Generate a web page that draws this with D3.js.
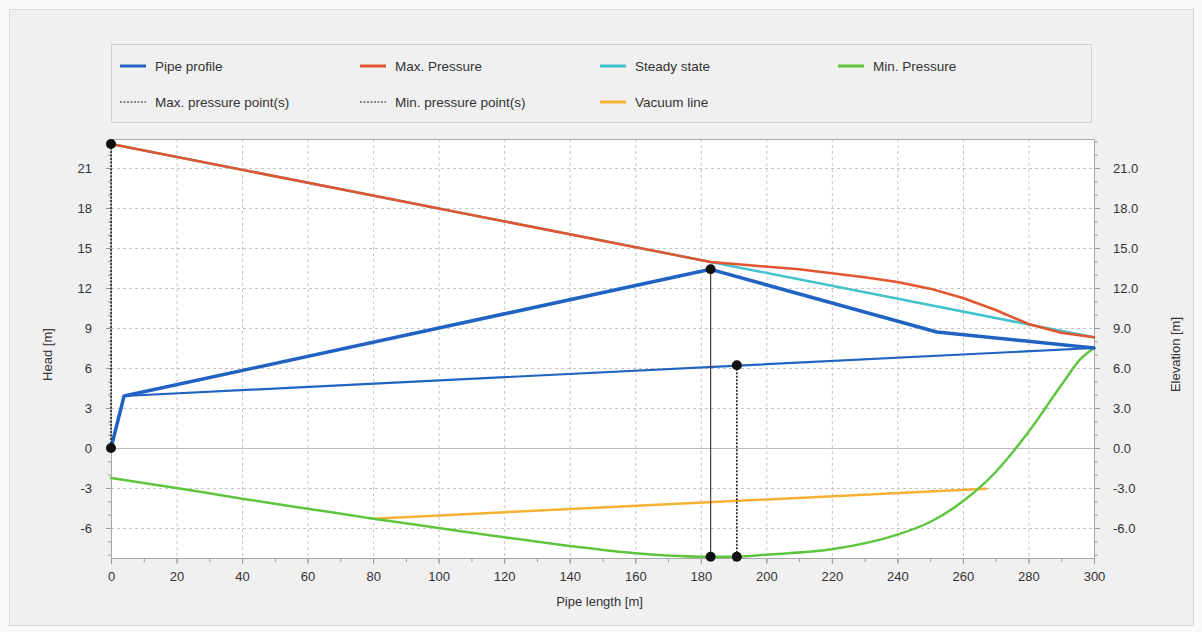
<!DOCTYPE html>
<html>
<head>
<meta charset="utf-8">
<script src="https://cdn.jsdelivr.net/npm/d3@7"></script>
<style>
  html, body { margin: 0; padding: 0; background: #fafafa; }
  svg { display: block; font-family: "Liberation Sans", Arial, sans-serif; }
</style>
</head>
<body>
<div id="chart"></div>
<script>
// Pipe profile: outbound line, then the return link back to the first bend
const pipeX = [0, 4, 183, 252, 300, 4];
const pipeY = [0, 3.9, 13.4, 8.7, 7.5, 3.9];

// Steady state hydraulic grade line
const steadyX = [0, 300];
const steadyY = [22.8, 8.3];

// Max. pressure envelope
const maxX = [0, 183, 195, 210, 220, 230, 240, 250, 260, 270, 280, 290, 300];
const maxY = [22.8, 13.95, 13.7, 13.4, 13.1, 12.8, 12.45, 11.95, 11.25, 10.35, 9.3, 8.65, 8.3];

// Min. pressure envelope
const minX = [0, 20, 40, 60, 80, 100, 120, 140, 160, 180, 190, 200, 220, 240, 250, 260, 270, 280, 290, 296, 300];
const minY = [-2.25, -3.0, -3.8, -4.55, -5.3, -6.0, -6.7, -7.35, -7.9, -8.15, -8.15, -8.0, -7.6, -6.5, -5.55, -4.0, -1.8, 1.2, 4.7, 6.7, 7.5];

// Vacuum line
const vacX = [80, 267];
const vacY = [-5.3, -3.05];

// Max. / min. pressure points: [x, y top, y bottom]
const maxPoints = [[0, 22.8, 0], [183, 13.4, -8.15]];
const minPoints = [[191, 6.2, -8.15]];

const xTicks = d3.range(0, 301, 20);
const yTicks = [-6, -3, 0, 3, 6, 9, 12, 15, 18, 21];

const legendItems = [
  { name: "Pipe profile", color: "#2063c2", dash: null },
  { name: "Max. Pressure", color: "#e2552e", dash: null },
  { name: "Steady state", color: "#42c2cc", dash: null },
  { name: "Min. Pressure", color: "#5ec53f", dash: null },
  { name: "Max. pressure point(s)", color: "#222", dash: "2,1.5" },
  { name: "Min. pressure point(s)", color: "#222", dash: "2,1.5" },
  { name: "Vacuum line", color: "#f6b232", dash: null }
];

const W = 1202, H = 632;
const plot = { left: 111, right: 1094, top: 139, bottom: 558 };

const svg = d3.select("#chart").append("svg")
  .attr("width", W).attr("height", H);

// panel background
svg.append("rect")
  .attr("x", 9.5).attr("y", 9.5).attr("width", 1184).attr("height", 616)
  .attr("fill", "#f0f0f0").attr("stroke", "#d9d9d9");

// legend
const lg = svg.append("g");
lg.append("rect")
  .attr("x", 111.5).attr("y", 44.5).attr("width", 980).attr("height", 78)
  .attr("fill", "#f0f0f0").attr("stroke", "#cfcfcf");
const colX = [120, 360, 600, 838];
const rowY = [66, 102];
legendItems.forEach((d, i) => {
  const cx = colX[i < 4 ? i : i - 4];
  const cy = rowY[i < 4 ? 0 : 1];
  lg.append("line")
    .attr("x1", cx).attr("x2", cx + 26).attr("y1", cy).attr("y2", cy)
    .attr("stroke", d.color)
    .attr("stroke-width", d.dash ? 1.2 : 3)
    .attr("stroke-dasharray", d.dash);
  lg.append("text")
    .attr("x", cx + 35).attr("y", cy + 5)
    .attr("font-size", 13.5).attr("fill", "#333")
    .text(d.name);
});

const x = d3.scaleLinear().domain([0, 300]).range([plot.left, plot.right]);
const y = d3.scaleLinear().domain([-8.25, 23.175]).range([plot.bottom, plot.top]);

// plot area
svg.append("rect")
  .attr("x", plot.left).attr("y", plot.top)
  .attr("width", plot.right - plot.left).attr("height", plot.bottom - plot.top)
  .attr("fill", "#fff");

// grid
const grid = svg.append("g").attr("stroke", "#c4c4c4").attr("stroke-dasharray", "3,3");
grid.selectAll("line.v").data(xTicks.filter(t => t > 0 && t < 300)).join("line")
  .attr("x1", d => x(d) + 0.5).attr("x2", d => x(d) + 0.5)
  .attr("y1", plot.top).attr("y2", plot.bottom);
grid.selectAll("line.h").data(yTicks.filter(t => t !== 0)).join("line")
  .attr("x1", plot.left).attr("x2", plot.right)
  .attr("y1", d => Math.round(y(d)) + 0.5).attr("y2", d => Math.round(y(d)) + 0.5);
svg.append("line")
  .attr("x1", plot.left).attr("x2", plot.right)
  .attr("y1", Math.round(y(0)) + 0.5).attr("y2", Math.round(y(0)) + 0.5)
  .attr("stroke", "#bdbdbd");

svg.append("rect")
  .attr("x", plot.left + 0.5).attr("y", plot.top + 0.5)
  .attr("width", plot.right - plot.left).attr("height", plot.bottom - plot.top)
  .attr("fill", "none").attr("stroke", "#a8a8a8");

// axes
function styleAxis(g) {
  g.select(".domain").remove();
  g.selectAll(".tick line").attr("stroke", "#999");
  g.selectAll(".tick text").attr("fill", "#333").attr("font-size", 13)
    .attr("font-family", "'Liberation Sans', Arial, sans-serif");
}
const hyphen = f => v => f(v).replace("\u2212", "-");

// minor ticks
svg.append("g").attr("transform", `translate(${plot.left},0)`)
  .call(d3.axisLeft(y).tickValues(d3.range(-8, 24, 1)).tickSize(3).tickFormat(""))
  .call(styleAxis);
svg.append("g").attr("transform", `translate(${plot.right + 1},0)`)
  .call(d3.axisRight(y).tickValues(d3.range(-8, 24, 1)).tickSize(3).tickFormat(""))
  .call(styleAxis);
svg.append("g").attr("transform", `translate(0,${plot.bottom + 1})`)
  .call(d3.axisBottom(x).tickValues(d3.range(0, 301, 10)).tickSize(3).tickFormat(""))
  .call(styleAxis);

svg.append("g").attr("transform", `translate(${plot.left},0)`)
  .call(d3.axisLeft(y).tickValues(yTicks).tickSize(5).tickPadding(14).tickFormat(hyphen(d3.format("d"))))
  .call(styleAxis);
svg.append("g").attr("transform", `translate(${plot.right + 1},0)`)
  .call(d3.axisRight(y).tickValues(yTicks).tickSize(5).tickPadding(13).tickFormat(hyphen(d3.format(".1f"))))
  .call(styleAxis);
svg.append("g").attr("transform", `translate(0,${plot.bottom + 1})`)
  .call(d3.axisBottom(x).tickValues(xTicks).tickSize(5).tickPadding(8).tickFormat(d3.format("d")))
  .call(styleAxis);

svg.append("text")
  .attr("transform", `translate(52,${(plot.top + plot.bottom) / 2 + 6}) rotate(-90)`)
  .attr("text-anchor", "middle").attr("font-size", 13).attr("fill", "#333")
  .text("Head [m]");
svg.append("text")
  .attr("transform", `translate(1180,${(plot.top + plot.bottom) / 2 + 6}) rotate(-90)`)
  .attr("text-anchor", "middle").attr("font-size", 13).attr("fill", "#333")
  .text("Elevation [m]");
svg.append("text")
  .attr("x", (plot.left + plot.right) / 2 - 3).attr("y", 606)
  .attr("text-anchor", "middle").attr("font-size", 13).attr("fill", "#333")
  .text("Pipe length [m]");

// series
const line = d3.line().x(d => x(d[0])).y(d => y(d[1]));
const smooth = d3.line().x(d => x(d[0])).y(d => y(d[1])).curve(d3.curveMonotoneX);
const zip = (xs, ys) => xs.map((v, i) => [v, ys[i]]);

const marks = svg.append("g").attr("fill", "none")
  .attr("stroke-linejoin", "round").attr("stroke-linecap", "round");

marks.append("path").attr("d", line(zip(vacX, vacY)))
  .attr("stroke", "#f6b232").attr("stroke-width", 2.5);
marks.append("path").attr("d", smooth(zip(minX, minY)))
  .attr("stroke", "#5ec53f").attr("stroke-width", 2.5);
marks.append("path").attr("d", line(zip(steadyX, steadyY)))
  .attr("stroke", "#42c2cc").attr("stroke-width", 2.5);
marks.append("path").attr("d", line(zip(maxX, maxY)))
  .attr("stroke", "#e2552e").attr("stroke-width", 2.5);

const pipe = zip(pipeX, pipeY);
marks.append("path").attr("d", line(pipe.slice(4)))
  .attr("stroke", "#2063c2").attr("stroke-width", 2.2);
marks.append("path").attr("d", line(pipe.slice(0, 5)))
  .attr("stroke", "#2063c2").attr("stroke-width", 3.5);

// pressure points
const pts = svg.append("g");
maxPoints.forEach((p, i) => {
  pts.append("line")
    .attr("x1", x(p[0])).attr("x2", x(p[0]))
    .attr("y1", y(p[1])).attr("y2", y(p[2]))
    .attr("stroke", i === 0 ? "#222" : "#444")
    .attr("stroke-width", i === 0 ? 1.6 : 1.2)
    .attr("stroke-dasharray", i === 0 ? "2,1.5" : null);
});
minPoints.forEach(p => {
  pts.append("line")
    .attr("x1", x(p[0])).attr("x2", x(p[0]))
    .attr("y1", y(p[1])).attr("y2", y(p[2]))
    .attr("stroke", "#222").attr("stroke-width", 1.6)
    .attr("stroke-dasharray", "2,1.5");
});
pts.selectAll("circle")
  .data(maxPoints.concat(minPoints).flatMap(p => [[p[0], p[1]], [p[0], p[2]]]))
  .join("circle")
  .attr("cx", d => x(d[0])).attr("cy", d => y(d[1])).attr("r", 5)
  .attr("fill", "#111");
</script>
</body>
</html>
